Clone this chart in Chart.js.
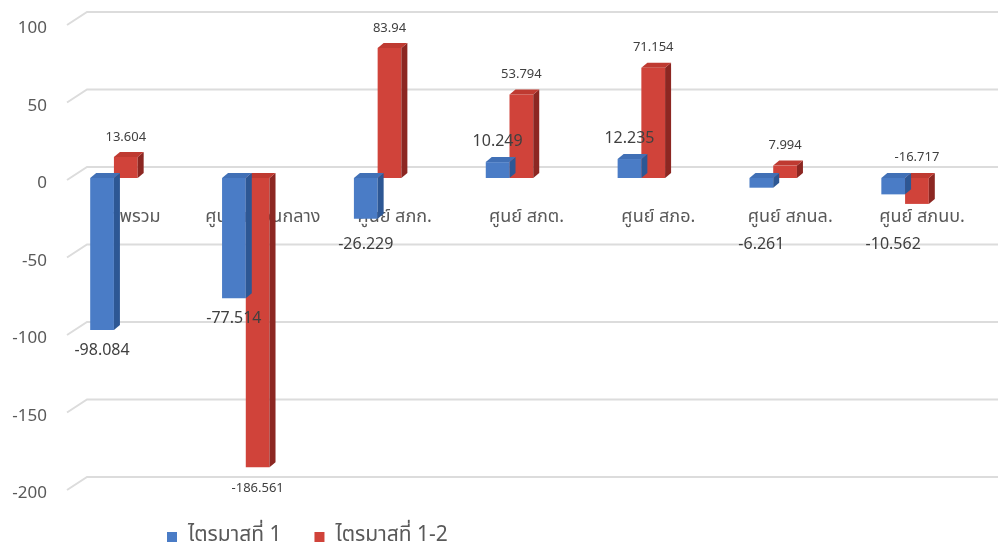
<!DOCTYPE html>
<html>
<head>
<meta charset="utf-8">
<script src="https://cdn.jsdelivr.net/npm/chart.js@4.4.1/dist/chart.umd.min.js"></script>
<style>
  html, body { margin: 0; padding: 0; background: #fff; }
  #wrap { width: 998px; height: 549px; }
</style>
</head>
<body>
<div id="wrap"><canvas id="chart" width="998" height="549"></canvas></div>
<script>
const categories = ['ภาพรวม', 'ศูนย์ฯ ส่วนกลาง', 'ศูนย์ สภก.', 'ศูนย์ สภต.', 'ศูนย์ สภอ.', 'ศูนย์ สภนล.', 'ศูนย์ สภนบ.'];
const q1Values = [-98.084, -77.514, -26.229, 10.249, 12.235, -6.261, -10.562];
const q12Values = [13.604, -186.561, 83.94, 53.794, 71.154, 7.994, -16.717];
const seriesNames = ['ไตรมาสที่ 1', 'ไตรมาสที่ 1-2'];
const yTicks = [100, 50, 0, -50, -100, -150, -200];

const FONT = '"Noto Sans Thai", "Noto Sans", "DejaVu Sans", sans-serif';
const TEXT = '#595959';

// front / side / cap shades for the fake 3d bars
const shades = [
  { front: '#4a7cc6', side: '#2d5794', top: '#4170b6' },
  { front: '#d0433a', side: '#8c2722', top: '#bf3a31' }
];
const DX = 6, DY = 5;

// floor grid drawn on the back wall with a short perspective stub
const backGrid = {
  id: 'backGrid',
  beforeDatasetsDraw(chart) {
    const { ctx, chartArea, scales: { y } } = chart;
    ctx.save();
    ctx.strokeStyle = '#dcdcdc';
    ctx.lineWidth = 2;
    yTicks.forEach(v => {
      const fy = y.getPixelForValue(v);
      ctx.beginPath();
      ctx.moveTo(chartArea.left + 19, fy + 2);
      ctx.lineTo(chartArea.left + 39, fy - 11);
      ctx.lineTo(chart.width, fy - 11);
      ctx.stroke();
    });
    ctx.restore();
  }
};

// side and cap faces, drawn per dataset so the next series covers them
const bars3d = {
  id: 'bars3d',
  afterDatasetDraw(chart, args) {
    const { ctx } = chart;
    const c = shades[args.index];
    ctx.save();
    args.meta.data.forEach(bar => {
      const { x, y, base, width } = bar.getProps(['x', 'y', 'base', 'width'], true);
      const l = x - width / 2, r = x + width / 2;
      const t = Math.min(y, base), b = Math.max(y, base);
      ctx.fillStyle = c.side;
      ctx.beginPath();
      ctx.moveTo(r, t); ctx.lineTo(r + DX, t - DY);
      ctx.lineTo(r + DX, b - DY); ctx.lineTo(r, b);
      ctx.closePath(); ctx.fill();
      ctx.fillStyle = c.top;
      ctx.beginPath();
      ctx.moveTo(l, t); ctx.lineTo(l + DX, t - DY);
      ctx.lineTo(r + DX, t - DY); ctx.lineTo(r, t);
      ctx.closePath(); ctx.fill();
    });
    ctx.restore();
  }
};

// value labels; short negative bars move their label clear of the axis text
const valueLabels = {
  id: 'valueLabels',
  afterDatasetsDraw(chart) {
    const { ctx, scales: { y } } = chart;
    const zero = y.getPixelForValue(0);
    ctx.save();
    ctx.textAlign = 'center';
    ctx.textBaseline = 'middle';
    ctx.fillStyle = '#404040';
    chart.data.datasets.forEach((ds, i) => {
      ctx.font = ds.labelSize + 'px ' + FONT;
      chart.getDatasetMeta(i).data.forEach((bar, j) => {
        const v = ds.data[j];
        const { x, y: py } = bar.getProps(['x', 'y'], true);
        let ly;
        if (v >= 0) {
          ly = py - 19;
        } else {
          ly = py + 22;
          if (ds.labelAvoid === 'down') ly = Math.max(ly, zero + 68);
          else if (ly < zero + 55) ly = zero - 20;
        }
        ctx.fillText(String(v), x, ly);
      });
    });
    ctx.restore();
  }
};

const legendBox = {
  id: 'legendBox',
  afterDraw(chart) {
    const { ctx } = chart;
    ctx.save();
    ctx.font = '21px ' + FONT;
    ctx.textBaseline = 'middle';
    let lx = 167;
    const ly = 537;
    chart.data.datasets.forEach((ds, i) => {
      ctx.fillStyle = shades[i].front;
      ctx.fillRect(lx, ly - 5, 10, 10);
      ctx.fillStyle = TEXT;
      ctx.fillText(ds.label, lx + 21, ly);
      lx += 21 + ctx.measureText(ds.label).width + 33;
    });
    ctx.restore();
  }
};

new Chart(document.getElementById('chart'), {
  type: 'bar',
  data: {
    labels: categories,
    datasets: [
      { label: seriesNames[0], data: q1Values, backgroundColor: shades[0].front, labelSize: 16, labelAvoid: 'down' },
      { label: seriesNames[1], data: q12Values, backgroundColor: shades[1].front, labelSize: 13, labelAvoid: 'up' }
    ]
  },
  options: {
    responsive: false,
    animation: false,
    categoryPercentage: 0.36,
    barPercentage: 1,
    layout: { padding: { top: 23, bottom: 61, right: 27, left: 0 } },
    plugins: {
      legend: { display: false },
      tooltip: { enabled: false }
    },
    scales: {
      x: {
        position: { y: 0 },
        grid: { display: false, drawTicks: false },
        border: { display: false },
        ticks: {
          color: TEXT,
          font: { size: 18, family: FONT },
          padding: 30,
          labelOffset: 17,
          autoSkip: false,
          maxRotation: 0
        }
      },
      y: {
        min: -200,
        max: 100,
        afterFit: s => { s.width = 48; },
        grid: { display: false, drawTicks: false },
        border: { display: false },
        ticks: {
          stepSize: 50,
          color: TEXT,
          padding: 1,
          labelOffset: 7,
          font: { size: 17, family: FONT }
        }
      }
    }
  },
  plugins: [backGrid, bars3d, valueLabels, legendBox]
});
</script>
</body>
</html>
